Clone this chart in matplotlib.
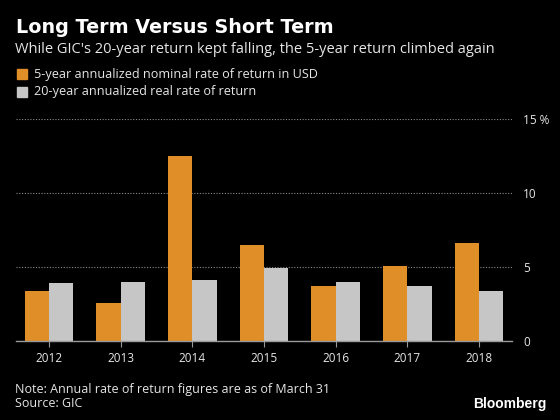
import matplotlib
matplotlib.use("Agg")
import matplotlib.pyplot as plt
import numpy as np
from matplotlib.patches import Rectangle

years = ["2012", "2013", "2014", "2015", "2016", "2017", "2018"]
five_year = [3.4, 2.6, 12.5, 6.5, 3.7, 5.1, 6.6]
twenty_year = [3.9, 4.0, 4.1, 4.9, 4.0, 3.7, 3.4]
ytick_vals = [0, 5, 10, 15]
ytick_labels = ["0", "5", "10", "15 %"]

ORANGE = "#E08E28"
GRAY = "#C6C6C6"
TXT = "#E6E6E6"
plt.rcParams['font.family'] = ['Open Sans', 'DejaVu Sans']

fig = plt.figure(figsize=(5.6, 4.2), dpi=100, facecolor="black")
ax = fig.add_axes([16/560, 1-341/420, 496/560, 222/420], facecolor="black")

x = np.arange(len(years))
w = 0.34
ax.bar(x - w/2, five_year, w, color=ORANGE, zorder=3)
ax.bar(x + w/2, twenty_year, w, color=GRAY, zorder=3)

ax.set_xlim(-0.46, len(years) - 1 + 0.46)
ax.set_ylim(0, 15)
ax.set_xticks(x)
ax.set_xticklabels(years, color=TXT, fontsize=8.5)
ax.set_yticks(ytick_vals)
ax.set_yticklabels(ytick_labels, color=TXT, fontsize=8.5)
ax.yaxis.tick_right()
ax.tick_params(axis='y', length=0, pad=8)
ax.tick_params(axis='x', length=4, color="#999999", pad=4)
for lbl in ax.get_yticklabels():
    lbl.set_horizontalalignment('left')
ax.grid(axis='y', color="#8A8A8A", linestyle=(0, (1, 1.5)), linewidth=0.8, zorder=0)
for s in ["top", "right", "left"]:
    ax.spines[s].set_visible(False)
ax.spines["bottom"].set_color("#999999")
ax.spines["bottom"].set_linewidth(1)
ax.spines["bottom"].set_zorder(4)

fig.text(16/560, 1-33/420, "Long Term Versus Short Term", color="white",
         fontsize=13.8, fontweight="bold", va="baseline", family=["DejaVu Sans"])
fig.text(15/560, 1-53/420, "While GIC's 20-year return kept falling, the 5-year return climbed again",
         color=TXT, fontsize=10.5, va="baseline")

legend_items = [("5-year annualized nominal rate of return in USD", ORANGE),
                ("20-year annualized real rate of return", GRAY)]
for i, (lab, col) in enumerate(legend_items):
    yb = 1 - (79 + i * 18) / 420
    fig.patches.append(Rectangle((17/560, yb), 10/560, 10/420, transform=fig.transFigure,
                                 color=col, figure=fig))
    fig.text(34/560, 1 - (78 + i * 17) / 420, lab, color=TXT, fontsize=9.1, va="baseline")

fig.text(15/560, 1-393/420, "Note: Annual rate of return figures are as of March 31",
         color=TXT, fontsize=9.0, va="baseline")
fig.text(15/560, 1-407/420, "Source: GIC", color=TXT, fontsize=9.0, va="baseline")
fig.text(547/560, 1-408/420, "Bloomberg", color="white", fontsize=10,
         fontweight="bold", ha="right", va="baseline", family=["Liberation Sans", "DejaVu Sans"])

fig.savefig("out.png", dpi=100, facecolor="black")
